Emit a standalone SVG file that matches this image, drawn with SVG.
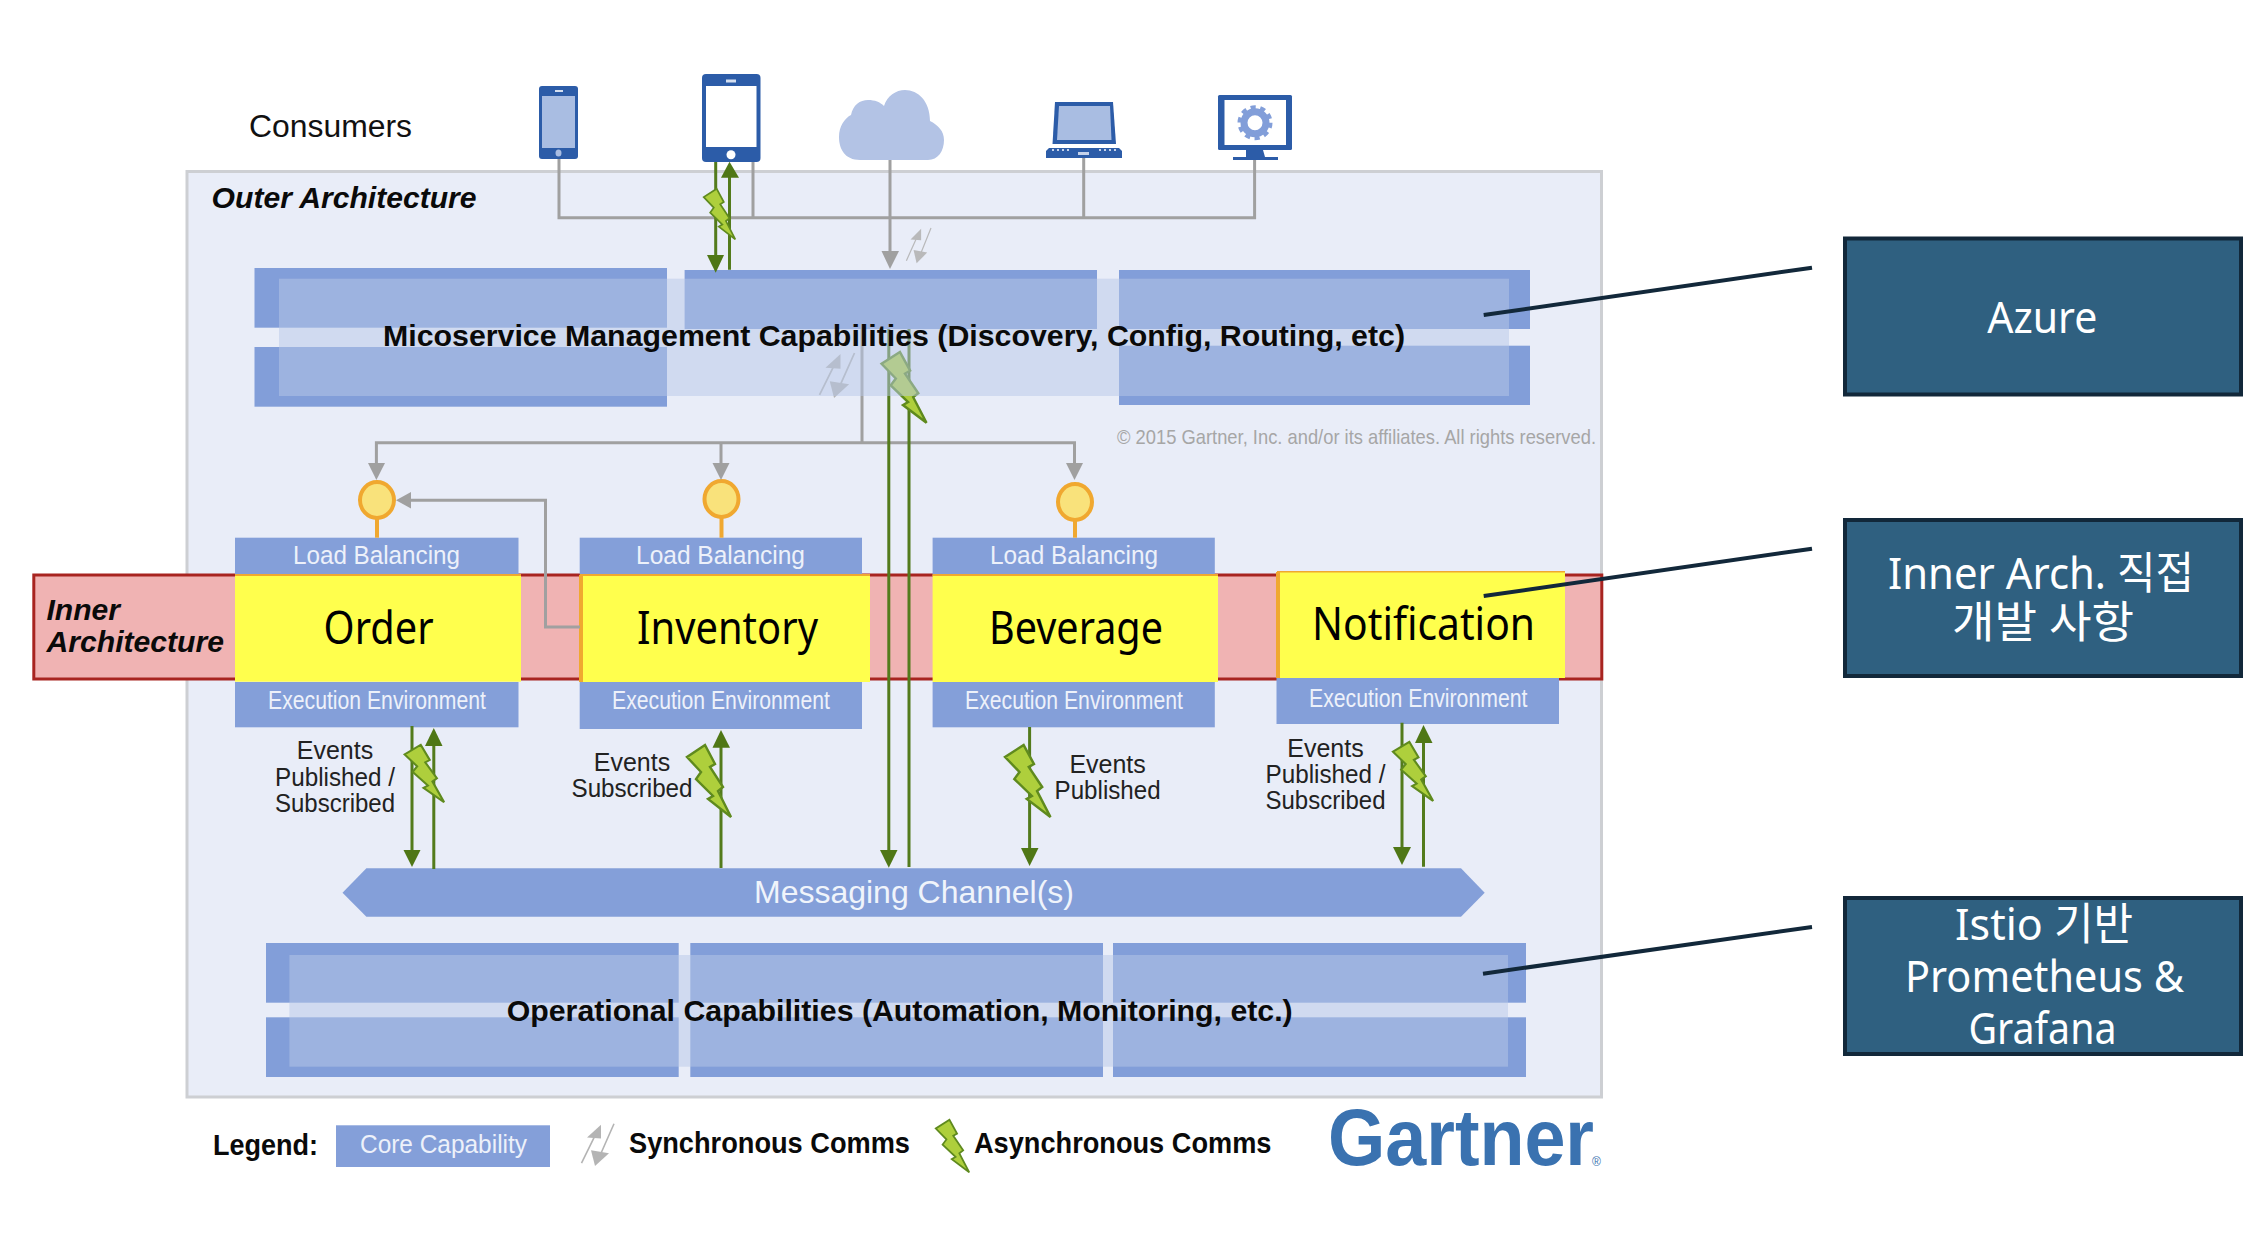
<svg xmlns="http://www.w3.org/2000/svg" xmlns:xlink="http://www.w3.org/1999/xlink" width="2264" height="1250" viewBox="0 0 2264 1250">
<style>
text{font-family:"Liberation Sans",Arial,sans-serif}
.b{fill:#829ED9}
.ov{fill:#B7C8E8;opacity:.5}
.hd{font-weight:700;font-size:30px;fill:#0a0a0a}
.bi{font-weight:700;font-style:italic;font-size:30px;fill:#0a0a0a}
.box{fill:#849FD9}
.w{fill:#EDF1FA;font-size:25px}
.ev{fill:#222;font-size:25px;text-anchor:middle}
.y{fill:#FFFF4D}
.yt{fill:#F0A830}
.svc{font-family:"Noto Sans","Open Sans",sans-serif;font-size:46px;fill:#000}
.lb{fill:#F9E27B;stroke:#F0A830;stroke-width:4}
.st{stroke:#F0A830;stroke-width:4}
.g{stroke:#A0A0A0;stroke-width:3;fill:none}
.gh{fill:#A0A0A0}
.gr{stroke:#537B1C;stroke-width:3;fill:none}
.grh{fill:#4F7716}
.note{fill:#2F6080;stroke:#12283A;stroke-width:4}
.nt{font-family:"Noto Sans","Noto Sans CJK KR",sans-serif;font-size:44px;fill:#fff;text-anchor:middle}
.blue{fill:#2C5CA8}
.co{stroke:#12283A;stroke-width:4;fill:none}
</style>
<defs>
<symbol id="bolt" viewBox="0 0 46 74" preserveAspectRatio="none" overflow="visible">
<polygon points="19,1 1,13 15,28 10,35 27,52 22,55 45,73 32,47 37,43 24,23 29,20" fill="#AECF3C" stroke="#5F8A1E" stroke-width="2.4" stroke-linejoin="miter"/>
</symbol>
<symbol id="sync" viewBox="0 0 33 44" preserveAspectRatio="none" overflow="visible">
<path d="M0.5 40 15 10M33 0 20 30" stroke="#B4B4B4" stroke-width="1.6" fill="none"/>
<polygon points="20,1 6,14 20,15" fill="#B4B4B4"/>
<polygon points="14,43 10,27 28,30" fill="#B4B4B4"/>
</symbol>
</defs>
<rect width="2264" height="1250" fill="#fff"/>
<g id="diagram" transform="translate(0 1)">

<g id="consumers">
<text x="249" y="136" font-size="31" fill="#111" textLength="163" lengthAdjust="spacingAndGlyphs">Consumers</text>
<g id="phone-small"><rect x="539" y="85" width="39" height="73" rx="3" class="blue"/><rect x="542" y="95" width="33" height="52" fill="#A9BDE2"/><rect x="555" y="89" width="8" height="2" fill="#D5DFF0"/><ellipse cx="558.500" cy="152" rx="3" ry="3.500" fill="#A9BDE2"/></g>
<g id="phone-large"><rect x="702" y="73" width="58.500" height="88" rx="4" class="blue"/><rect x="706" y="85" width="50.500" height="61" fill="#fff"/><rect x="726" y="78.500" width="10" height="3" fill="#D5DFF0"/><ellipse cx="731" cy="153.700" rx="4.500" ry="4.500" fill="#fff"/></g>
<path id="cloud" d="M860 159C845 159 839 148 839 136C839 125 845 117 851 114C853 104 860 99 868 99C875 99 880 101 884 105C887 95 896 89 905 89C918 89 930 100 930 120C938 124 944 130 944 139C944 150 938 159 928 159Z" fill="#B3C3E5"/>
<g id="laptop"><polygon points="1055,101 1113,101 1116,143 1052.500,143" class="blue"/><polygon points="1059,105 1110,105 1111.500,139 1057,139" fill="#A9BDE2"/><polygon points="1049,147 1119,147 1122,150 1122,157 1046,157 1046,150" class="blue"/><rect x="1078" y="151" width="11" height="3" fill="#C5D2EA"/><path d="M1052 149h2m3 0h2m3 0h2m3 0h2m30 0h2m3 0h2m3 0h2m3 0h2" stroke="#C5D2EA" stroke-width="2"/></g>
<g id="monitor"><rect x="1218" y="94" width="74" height="55" rx="1.500" class="blue"/><rect x="1224.500" y="99" width="61.500" height="45" fill="#fff"/><path d="M1246 149h17l2 7h13v3h-45v-3h13z" class="blue"/>
<circle cx="1255" cy="121.700" r="11" fill="none" stroke="#829ED9" stroke-width="7"/><circle cx="1255" cy="121.700" r="15" fill="none" stroke="#829ED9" stroke-width="5" stroke-dasharray="5 4.420"/></g>
</g>

<g id="outer-architecture">
<rect x="187" y="170.500" width="1414.500" height="925.500" fill="#E9EDF8" stroke="#CDCFD3" stroke-width="3"/>
<text x="211.600" y="206.700" class="bi" textLength="265" lengthAdjust="spacingAndGlyphs">Outer Architecture</text>
<text x="1117" y="443" font-size="21" fill="#A6A6A6" textLength="479" lengthAdjust="spacingAndGlyphs">© 2015 Gartner, Inc. and/or its affiliates. All rights reserved.</text>
</g>

<g id="management-blocks">
<rect class="b" x="254.500" y="267" width="412.500" height="59.700"/>
<rect class="b" x="254.500" y="346" width="412.500" height="59.700"/>
<rect class="b" x="684.600" y="269" width="412.400" height="59"/>
<rect class="b" x="1119" y="269" width="411" height="59"/>
<rect class="b" x="1119" y="344.700" width="411" height="59.300"/>
</g>

<g id="inner-architecture-band">
<rect x="33.800" y="574" width="1568" height="104" fill="#F0B3B3" stroke="#A82420" stroke-width="3"/>
<text x="46.500" y="619" class="bi" textLength="73.500" lengthAdjust="spacingAndGlyphs">Inner</text>
<text x="46.500" y="651" class="bi" textLength="177.500" lengthAdjust="spacingAndGlyphs">Architecture</text>
</g>

<g id="order">
<rect class="box" x="235" y="536.700" width="283.500" height="37"/>
<rect class="y" x="235" y="574" width="286" height="106.700"/><rect class="yt" x="235" y="573" width="286" height="2"/>
<rect class="box" x="235" y="681" width="283.500" height="45.300"/>
<text class="w" x="293" y="562.700" textLength="167" lengthAdjust="spacingAndGlyphs">Load Balancing</text>
<text class="svc" x="323.600" y="643" textLength="110" lengthAdjust="spacingAndGlyphs">Order</text>
<text class="w" x="268" y="708" textLength="218" lengthAdjust="spacingAndGlyphs">Execution Environment</text>
<line class="st" x1="377" y1="518" x2="377" y2="536.700"/><ellipse class="lb" cx="377" cy="499" rx="17" ry="18"/>
</g>
<g id="inventory">
<rect class="box" x="579.700" y="536.700" width="282.300" height="37"/>
<rect class="y" x="580.500" y="574" width="289.500" height="107"/><rect class="yt" x="580" y="573" width="290" height="2"/><rect class="yt" x="579" y="574" width="4" height="107"/>
<rect class="box" x="579.700" y="681" width="282.300" height="47"/>
<text class="w" x="636" y="562.700" textLength="169" lengthAdjust="spacingAndGlyphs">Load Balancing</text>
<text class="svc" x="637" y="643" textLength="181" lengthAdjust="spacingAndGlyphs">Inventory</text>
<text class="w" x="612" y="708" textLength="218" lengthAdjust="spacingAndGlyphs">Execution Environment</text>
<line class="st" x1="721.500" y1="517" x2="721.500" y2="536.700"/><ellipse class="lb" cx="721.500" cy="498" rx="17" ry="18"/>
</g>
<g id="beverage">
<rect class="box" x="932.600" y="536.700" width="282.200" height="37"/>
<rect class="y" x="932.600" y="574" width="285.400" height="107"/><rect class="yt" x="932.600" y="573" width="285.400" height="2"/>
<rect class="box" x="932.600" y="681" width="282.200" height="45.300"/>
<text class="w" x="990" y="562.700" textLength="168" lengthAdjust="spacingAndGlyphs">Load Balancing</text>
<text class="svc" x="989" y="643" textLength="174" lengthAdjust="spacingAndGlyphs">Beverage</text>
<text class="w" x="965" y="708" textLength="218" lengthAdjust="spacingAndGlyphs">Execution Environment</text>
<line class="st" x1="1075" y1="520" x2="1075" y2="536.700"/><ellipse class="lb" cx="1075" cy="501" rx="17" ry="18"/>
</g>
<g id="notification">
<rect class="y" x="1277.500" y="570.700" width="287.500" height="106.300"/><rect class="yt" x="1277" y="570" width="288" height="1.500"/><rect class="yt" x="1276" y="571" width="4" height="106"/>
<rect class="box" x="1276.500" y="677" width="282.500" height="46"/>
<text class="svc" x="1312" y="639" textLength="223" lengthAdjust="spacingAndGlyphs">Notification</text>
<text class="w" x="1309" y="705.700" textLength="218.500" lengthAdjust="spacingAndGlyphs">Execution Environment</text>
</g>

<g id="messaging-channel">
<polygon class="box" points="342.500,891.700 366.400,867.300 1461,867.300 1484.700,891.700 1461,915.700 366.400,915.700"/>
<text x="754" y="901.700" font-size="32" fill="#F0F4FB" textLength="320" lengthAdjust="spacingAndGlyphs">Messaging Channel(s)</text>
</g>

<g id="operational-capabilities">
<rect class="b" x="266" y="942" width="412.700" height="59.700"/><rect class="b" x="266" y="1016.300" width="412.700" height="59.700"/>
<rect class="b" x="690.300" y="942" width="412.700" height="59.700"/><rect class="b" x="690.300" y="1016.300" width="412.700" height="59.700"/>
<rect class="b" x="1113" y="942" width="413" height="59.700"/><rect class="b" x="1113" y="1016.300" width="413" height="59.700"/>
<rect class="ov" x="289.400" y="954" width="1218.600" height="111.700"/>
<text class="hd" x="506.700" y="1020" textLength="786" lengthAdjust="spacingAndGlyphs">Operational Capabilities (Automation, Monitoring, etc.)</text>
</g>

<g id="connectors">
<path class="g" d="M559 158V216.700H1254.600V159M1083.700 157V216.700M753 161V216.700M890 159V252"/>
<polygon class="gh" points="881.500,250 899,250 890,268"/>
<use href="#sync" x="906" y="227" width="25" height="36" opacity=".9"/>
<path class="gr" d="M715.700 161V256M729.500 268.700V175"/>
<polygon class="grh" points="707,254 724,254 715.700,271.700"/>
<polygon class="grh" points="721,176.700 739,176.700 729.500,160.700"/>
<use href="#bolt" x="703" y="187" width="33" height="52"/>
<path class="g" d="M862 328V441.700M376.400 463V441.700H1074.500V463M721 441.700V463"/>
<polygon class="gh" points="368,462 385,462 376.400,479"/>
<polygon class="gh" points="712.500,462 729.500,462 721,479"/>
<polygon class="gh" points="1066,462 1083,462 1074.500,479"/>
<path class="g" d="M580 626H545.500V499.300H410"/>
<polygon class="gh" points="396,499.300 411,491 411,507.500"/>
<use href="#sync" x="819" y="352" width="35.500" height="46"/>
<path class="gr" d="M888.800 328V851M909 328V866"/>
<polygon class="grh" points="880,849 897.500,849 888.800,866.700"/>
<use href="#bolt" x="880.500" y="350" width="47" height="72.700"/>
<path class="gr" d="M412 725V851M433.800 868V743"/>
<polygon class="grh" points="403.500,849 420.500,849 412,866"/>
<polygon class="grh" points="425,745 442.500,745 433.800,727"/>
<use href="#bolt" x="403.700" y="743" width="41.300" height="59"/>
<path class="gr" d="M721 867V745"/>
<polygon class="grh" points="712.500,746.700 730,746.700 721,729"/>
<use href="#bolt" x="686" y="743" width="46" height="74"/>
<path class="gr" d="M1029.600 726V849"/>
<polygon class="grh" points="1021,847 1038.500,847 1029.600,865"/>
<use href="#bolt" x="1004" y="743" width="47.500" height="74"/>
<path class="gr" d="M1402 721.700V848M1423.500 865.700V740"/>
<polygon class="grh" points="1393,846 1411,846 1402,864"/>
<polygon class="grh" points="1415,742 1432.500,742 1423.500,724"/>
<use href="#bolt" x="1392" y="740" width="42" height="60.700"/>
</g>

<g id="management-overlay">
<rect class="ov" x="279" y="277.700" width="1230" height="117.300"/>
<text class="hd" x="383" y="345" textLength="1022" lengthAdjust="spacingAndGlyphs">Micoservice Management Capabilities (Discovery, Config, Routing, etc)</text>
</g>

<g id="event-labels">
<text class="ev" x="335" y="758">Events</text><text class="ev" x="335" y="784.700" textLength="120" lengthAdjust="spacingAndGlyphs">Published /</text><text class="ev" x="335" y="810.700" textLength="120" lengthAdjust="spacingAndGlyphs">Subscribed</text>
<text class="ev" x="632" y="770">Events</text><text class="ev" x="632" y="796" textLength="121" lengthAdjust="spacingAndGlyphs">Subscribed</text>
<text class="ev" x="1107.600" y="771.700">Events</text><text class="ev" x="1107.600" y="797.700" textLength="106" lengthAdjust="spacingAndGlyphs">Published</text>
<text class="ev" x="1325.500" y="755.700">Events</text><text class="ev" x="1325.500" y="781.700" textLength="120" lengthAdjust="spacingAndGlyphs">Published /</text><text class="ev" x="1325.500" y="807.700" textLength="120" lengthAdjust="spacingAndGlyphs">Subscribed</text>
</g>

<g id="legend">
<text class="hd" x="213" y="1154" textLength="105" lengthAdjust="spacingAndGlyphs">Legend:</text>
<rect class="box" x="336" y="1124.300" width="214" height="41.700"/>
<text class="w" x="360" y="1151.700" textLength="167" lengthAdjust="spacingAndGlyphs">Core Capability</text>
<use href="#sync" x="581" y="1122.700" width="33" height="43.300"/>
<text class="hd" x="629" y="1151.700" textLength="281" lengthAdjust="spacingAndGlyphs">Synchronous Comms</text>
<use href="#bolt" x="935" y="1118" width="35" height="54"/>
<text class="hd" x="974" y="1151.700" textLength="297.400" lengthAdjust="spacingAndGlyphs">Asynchronous Comms</text>
</g>

<g id="gartner-logo">
<text x="1328" y="1164" font-size="80" font-weight="700" fill="#3A72B0" textLength="266" lengthAdjust="spacingAndGlyphs">Gartner</text>
<text x="1592" y="1165" font-size="12" fill="#3A72B0">®</text>
</g>

<g id="note-azure">
<rect class="note" x="1845" y="237.500" width="396" height="156"/>
<text class="nt" x="2042.300" y="331.700" textLength="110" lengthAdjust="spacingAndGlyphs">Azure</text>
</g>
<g id="note-inner">
<rect class="note" x="1845" y="519" width="396" height="156"/>
<text class="nt" x="2041" y="587.700" textLength="306" lengthAdjust="spacingAndGlyphs">Inner Arch. 직접</text>
<text class="nt" x="2043" y="636.700" textLength="182" lengthAdjust="spacingAndGlyphs">개발 사항</text>
</g>
<g id="note-istio">
<rect class="note" x="1845" y="897" width="396" height="156"/>
<text class="nt" x="2044" y="939.300" textLength="178" lengthAdjust="spacingAndGlyphs">Istio 기반</text>
<text class="nt" x="2044.500" y="990.700" textLength="279" lengthAdjust="spacingAndGlyphs">Prometheus &amp;</text>
<text class="nt" x="2042.500" y="1042.700" textLength="148" lengthAdjust="spacingAndGlyphs">Grafana</text>
</g>

<g id="callouts">
<line class="co" x1="1483.700" y1="314" x2="1812" y2="266.700"/>
<line class="co" x1="1483.700" y1="595" x2="1812" y2="547.700"/>
<line class="co" x1="1483" y1="972.700" x2="1812" y2="926"/>
</g>
</g>
</svg>
